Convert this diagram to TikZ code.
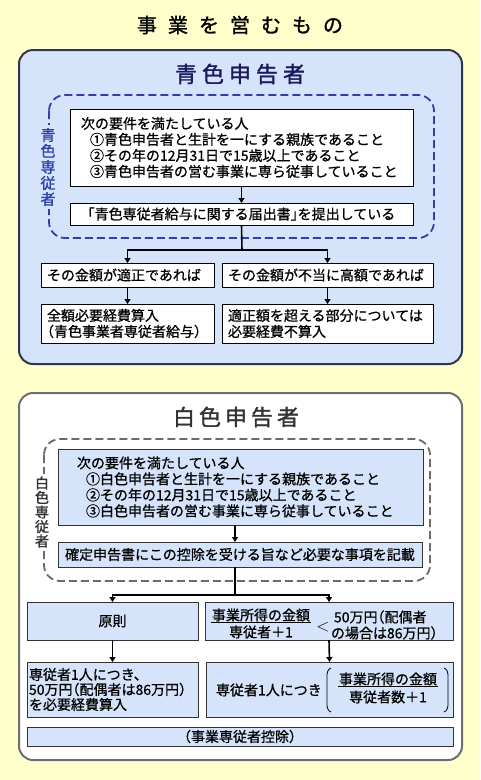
\documentclass[tikz,border=0pt]{standalone}
\usepackage{fontspec}
\setmainfont{Noto Sans CJK JP}[FakeBold=0.8]
\newfontfamily\titlefont{Noto Sans CJK JP}[FakeBold=1.4]
\newcommand\lpar{{\addfontfeature{RawFeature=+halt}（}}
\newcommand\rpar{{\addfontfeature{RawFeature=+halt}）}}
\usetikzlibrary{arrows.meta}
\definecolor{bgyellow}{HTML}{FFFFCC}
\definecolor{pblue}{HTML}{D6E4FB}
\definecolor{navy}{HTML}{1B1B5E}
\definecolor{dashblue}{HTML}{3040A8}
\definecolor{pborder}{HTML}{30344F}
\definecolor{gborder}{HTML}{6E6E6E}
\definecolor{gdash}{HTML}{6A6A6A}
\definecolor{boxline}{HTML}{333333}
\begin{document}
\begin{tikzpicture}[x=1pt,y=-1pt,
  every node/.style={inner sep=0pt, outer sep=0pt},
  box/.style={draw=black, line width=0.9pt, fill=white, anchor=north west, font=\fontsize{14}{16}\selectfont},
  bbox/.style={box, draw=boxline, fill=pblue},
  txt/.style={font=\fontsize{14}{16}\selectfont},
  conn/.style={line width=1.6pt},
  arr/.style={conn, -{Triangle[length=5pt,width=6pt]}},
  paren/.style={line width=0.8pt},
]
% background
\fill[bgyellow] (0,0) rectangle (480,780);
\useasboundingbox (0,0) rectangle (480,780);

% main title
\node[font=\titlefont\fontsize{20}{22}\selectfont] (title) at (240,25)
  {事\hspace{11pt}業\hspace{11pt}を\hspace{11pt}営\hspace{11pt}む\hspace{11pt}も\hspace{11pt}の};

% ===== blue panel =====
\draw[pborder, fill=pblue, line width=2pt, rounded corners=14pt] (19,50) rectangle (462,364);
\node[font=\titlefont\fontsize{22}{24}\selectfont, text=navy] (btitle) at (240,74)
  {青\hspace{5pt}色\hspace{5pt}申\hspace{5pt}告\hspace{5pt}者};
\draw[dashblue, line width=1.8pt, dash pattern=on 8pt off 4pt, rounded corners=16pt] (49,95) rectangle (434,238);
\node[font=\titlefont\fontsize{15}{16}\selectfont, text=dashblue, fill=pblue, inner xsep=1pt, inner ysep=3pt, align=center] (bvl) at (48,167)
  {青\\色\\専\\従\\者};

\node[box, minimum width=343pt, minimum height=77pt, text width=321pt, inner xsep=11pt, align=left] (req1) at (70,109)
  {次の要件を満たしている人\\
   \hspace*{9pt}①青色申告者と生計を一にする親族であること\\
   \hspace*{9pt}②その年の12月31日で15歳以上であること\\
   \hspace*{9pt}③青色申告者の営む事業に専ら従事していること};
\node[box, minimum width=343pt, minimum height=22pt] (form1) at (70,203)
  {{\addfontfeature{RawFeature=+halt}「}青色専従者給与に関する届出書{\addfontfeature{RawFeature=+halt}」}を提出している};
\node[box, minimum width=173pt, minimum height=24pt, text width=161pt, inner xsep=6pt, align=left] (ok) at (41,263)
  {その金額が適正であれば};
\node[box, minimum width=211pt, minimum height=24pt, text width=199pt, inner xsep=6pt, align=left] (ng) at (222,263)
  {その金額が不当に高額であれば};
\node[box, minimum width=173pt, minimum height=39pt, text width=161pt, inner xsep=6pt, align=left] (res1) at (41,304)
  {全額必要経費算入\\\lpar 青色事業者専従者給与\rpar};
\node[box, minimum width=211pt, minimum height=39pt, text width=199pt, inner xsep=6pt, align=left] (res2) at (222,304)
  {適正額を超える部分については\\必要経費不算入};

\draw[arr] (req1.south) -- (form1.north);
\coordinate (b1) at (242,250);
\draw[conn] (form1.south) -- (b1);
\draw[arr] (b1) -| (ok.north);
\draw[arr] (b1) -| (ng.north);
\draw[arr] (ok.south) -- (res1.north);
\draw[arr] (ng.south) -- (res2.north);

% ===== white panel =====
\draw[gborder, fill=white, line width=2pt, rounded corners=14pt] (19,393) rectangle (462,760);
\node[font=\titlefont\fontsize{22}{24}\selectfont, text=boxline] (wtitle) at (236,417)
  {白\hspace{4pt}色\hspace{4pt}申\hspace{4pt}告\hspace{4pt}者};
\draw[gdash, line width=1.8pt, dash pattern=on 8pt off 4pt, rounded corners=16pt] (44,439) rectangle (430,581);
\node[font=\titlefont\fontsize{14}{14.5}\selectfont, text=boxline, fill=white, inner xsep=1pt, inner ysep=3pt, align=center] (wvl) at (42,512)
  {白\\色\\専\\従\\者};

\node[bbox, minimum width=365pt, minimum height=76pt, text width=327pt, inner xsep=19pt, align=left] (req2) at (58,449)
  {次の要件を満たしている人\\
   \hspace*{9pt}①白色申告者と生計を一にする親族であること\\
   \hspace*{9pt}②その年の12月31日で15歳以上であること\\
   \hspace*{9pt}③白色申告者の営む事業に専ら従事していること};
\node[bbox, minimum width=364pt, minimum height=25pt] (rec) at (58,542)
  {確定申告書にこの控除を受ける旨など必要な事項を記載};
\node[bbox, minimum width=171pt, minimum height=38pt] (gen) at (27,602) {原則};
\node[bbox, minimum width=248pt, minimum height=38pt] (frac) at (205,602) {};
\node[bbox, minimum width=171pt, minimum height=55pt, text width=167pt, inner xsep=2pt, align=left,
      font=\fontsize{14}{15}\selectfont] (ded1) at (27,662)
  {専従者1人につき、\\50万円\lpar 配偶者は86万円\rpar\\を必要経費算入};
\node[bbox, minimum width=247pt, minimum height=55pt] (ded2) at (206,662) {};
\node[bbox, minimum width=426pt, minimum height=19pt] (ctrl) at (27,727) {\lpar 事業専従者控除\rpar};

% fraction in frac box
\node[txt, inner sep=1pt] (fn1) at (261,615) {事業所得の金額};
\node[txt] (fd1) at (261,632) {専従者＋1};
\draw[line width=0.8pt] (fn1.south west) -- (fn1.south east);
\node[font=\fontsize{18}{18}\selectfont] (lt) at (323,627) {$<$};
\node[txt, anchor=west, align=left] (lim) at (331,625) {\hspace*{3pt}50万円\lpar 配偶者\\の場合は86万円\rpar};

% fraction in ded2 box
\node[txt, anchor=west] (per) at (216,690) {専従者1人につき};
\node[txt, inner sep=1pt] (fn2) at (388,679) {事業所得の金額};
\node[txt] (fd2) at (388,697) {専従者数＋1};
\draw[line width=0.8pt] (fn2.south west) -- (fn2.south east);
\draw[paren] (331,668) to[out=200,in=90] (327,676) -- (327,704) to[out=-90,in=160] (331,712);
\draw[paren] (444,668) to[out=-20,in=90] (448,676) -- (448,704) to[out=-90,in=20] (444,712);

\draw[arr] (req2.south -| 235,0) -- (rec.north -| 235,0);
\coordinate (b2) at (235,595);
\draw[conn] (rec.south -| b2) -- (b2);
\draw[arr] (b2) -| (gen.north);
\draw[arr] (b2) -| (frac.north);
\draw[arr] (gen.south) -- (ded1.north);
\draw[arr] (frac.south) -- (ded2.north);
\end{tikzpicture}
\end{document}
